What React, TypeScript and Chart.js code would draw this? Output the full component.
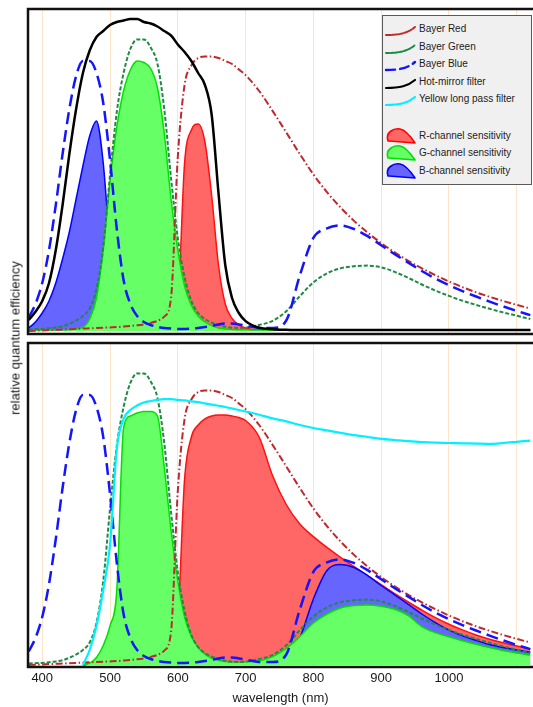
import React, { useEffect, useRef } from 'react';
import { Chart, registerables } from 'chart.js';

Chart.register(...registerables);

// wavelength samples (nm)
const W = [
  380, 390, 400, 410, 420, 430, 440, 450, 460, 470, 480, 490, 500, 510, 520, 530, 540, 550, 560, 570,
  580, 590, 600, 610, 620, 630, 640, 650, 660, 670, 680, 690, 700,
  720, 740, 760, 780, 800, 820, 840, 860, 880, 900, 920, 940, 960, 980, 1000, 1020, 1040, 1060, 1080, 1100, 1120,
];

// Bayer filter curves (same in both panels)
const bayerRed = [
  0.0, 0.001, 0.002, 0.003, 0.004, 0.005, 0.006, 0.007, 0.008, 0.009, 0.01, 0.011, 0.012, 0.013, 0.015, 0.017, 0.019, 0.022, 0.027, 0.034,
  0.048, 0.11, 0.58, 0.82, 0.885, 0.91, 0.915, 0.915, 0.91, 0.9, 0.89, 0.872, 0.853,
  0.8, 0.733, 0.662, 0.59, 0.522, 0.463, 0.412, 0.367, 0.328, 0.293, 0.262, 0.234, 0.209, 0.186, 0.165, 0.146, 0.129, 0.114, 0.1, 0.087, 0.075,
];
const bayerGreen = [
  0.005, 0.006, 0.007, 0.009, 0.012, 0.016, 0.024, 0.035, 0.05, 0.075, 0.14, 0.28, 0.52, 0.73, 0.86, 0.94, 0.972, 0.972, 0.945, 0.89,
  0.74, 0.51, 0.31, 0.18, 0.1, 0.06, 0.04, 0.028, 0.02, 0.014, 0.011, 0.01, 0.011,
  0.02, 0.034, 0.066, 0.116, 0.162, 0.192, 0.209, 0.216, 0.218, 0.212, 0.197, 0.177, 0.155, 0.135, 0.117, 0.101, 0.087, 0.074, 0.062, 0.051, 0.04,
];
const bayerBlue = [
  0.045, 0.09, 0.16, 0.27, 0.42, 0.59, 0.74, 0.85, 0.9, 0.9, 0.86, 0.76, 0.57, 0.34, 0.17, 0.09, 0.05, 0.03, 0.02, 0.014,
  0.01, 0.008, 0.007, 0.007, 0.008, 0.01, 0.013, 0.017, 0.022, 0.025, 0.025, 0.022, 0.018,
  0.01, 0.01, 0.035, 0.185, 0.31, 0.342, 0.352, 0.34, 0.316, 0.286, 0.256, 0.228, 0.2, 0.175, 0.153, 0.133, 0.115, 0.098, 0.082, 0.067, 0.053,
];

// top panel: hot-mirror filter and channel sensitivities
const hotMirror = [
  0.037, 0.064, 0.1, 0.16, 0.27, 0.42, 0.59, 0.74, 0.86, 0.935, 0.98, 1.0, 1.02, 1.03, 1.035, 1.04, 1.04, 1.03, 1.025, 1.015,
  1.0, 0.985, 0.955, 0.93, 0.9, 0.86, 0.82, 0.72, 0.46, 0.22, 0.11, 0.06, 0.033,
  0.011, 0.006, 0.004, 0.003, 0.003, 0.003, 0.003, 0.003, 0.003, 0.003, 0.003, 0.003, 0.003, 0.003, 0.003, 0.003, 0.003, 0.003, 0.003, 0.003, 0.003,
];
const rTop = [
  0.003, 0.003, 0.003, 0.003, 0.003, 0.003, 0.003, 0.003, 0.003, 0.003, 0.003, 0.003, 0.003, 0.003, 0.003, 0.003, 0.003, 0.003, 0.003, 0.003,
  0.006, 0.025, 0.09, 0.56, 0.67, 0.69, 0.63, 0.45, 0.22, 0.09, 0.042, 0.02, 0.01,
  0.004, 0.003, 0.003, 0.003, 0.003, 0.003, 0.003, 0.003, 0.003, 0.003, 0.003, 0.003, 0.003, 0.003, 0.003, 0.003, 0.003, 0.003, 0.003, 0.003, 0.003,
];
const gTop = [
  0.003, 0.003, 0.003, 0.003, 0.003, 0.004, 0.005, 0.007, 0.012, 0.04, 0.11, 0.27, 0.5, 0.68, 0.8, 0.87, 0.9, 0.895, 0.875, 0.81,
  0.66, 0.44, 0.27, 0.15, 0.085, 0.05, 0.03, 0.018, 0.01, 0.007, 0.005, 0.004, 0.004,
  0.003, 0.003, 0.003, 0.003, 0.003, 0.003, 0.003, 0.003, 0.003, 0.003, 0.003, 0.003, 0.003, 0.003, 0.003, 0.003, 0.003, 0.003, 0.003, 0.003, 0.003,
];
const bTop = [
  0.01, 0.03, 0.06, 0.1, 0.16, 0.24, 0.33, 0.44, 0.55, 0.65, 0.7, 0.56, 0.28, 0.12, 0.05, 0.02, 0.01, 0.007, 0.005, 0.004,
  0.004, 0.003, 0.003, 0.003, 0.003, 0.003, 0.003, 0.003, 0.003, 0.003, 0.003, 0.003, 0.003,
  0.003, 0.003, 0.003, 0.003, 0.003, 0.003, 0.003, 0.003, 0.003, 0.003, 0.003, 0.003, 0.003, 0.003, 0.003, 0.003, 0.003, 0.003, 0.003, 0.003, 0.003,
];

// bottom panel: yellow long pass filter and channel sensitivities
const yellowLP = [
  null, null, null, null, null, null, null, null, 0.0, 0.05, 0.13, 0.25, 0.4, 0.72, 0.82, 0.85, 0.865, 0.875, 0.88, 0.884,
  0.886, 0.886, 0.884, 0.882, 0.879, 0.876, 0.872, 0.868, 0.864, 0.86, 0.855, 0.85, 0.845,
  0.834, 0.822, 0.812, 0.8, 0.79, 0.782, 0.774, 0.766, 0.76, 0.754, 0.75, 0.746, 0.743, 0.741, 0.74, 0.739, 0.738, 0.737, 0.74, 0.744, 0.748,
];
const rBottom = [
  null, null, null, null, null, null, null, null, 0.0, 0.004, 0.005, 0.006, 0.007, 0.008, 0.01, 0.012, 0.014, 0.016, 0.02, 0.025,
  0.035, 0.06, 0.15, 0.62, 0.76, 0.8, 0.82, 0.83, 0.833, 0.833, 0.83, 0.825, 0.815,
  0.76, 0.63, 0.535, 0.47, 0.428, 0.392, 0.359, 0.328, 0.298, 0.268, 0.238, 0.21, 0.183, 0.158, 0.136, 0.117, 0.1, 0.086, 0.074, 0.063, 0.053,
];
const gBottom = [
  null, null, null, null, null, null, null, null, 0.0, 0.006, 0.025, 0.065, 0.13, 0.25, 0.79, 0.83, 0.84, 0.845, 0.845, 0.83,
  0.66, 0.45, 0.28, 0.16, 0.095, 0.058, 0.036, 0.022, 0.016, 0.012, 0.01, 0.01, 0.011,
  0.014, 0.028, 0.055, 0.095, 0.14, 0.17, 0.19, 0.198, 0.2, 0.196, 0.186, 0.165, 0.128, 0.108, 0.094, 0.081, 0.069, 0.058, 0.048, 0.04, 0.033,
];
const bBottom = [
  null, null, null, null, null, null, null, null, 0.0, 0.003, 0.003, 0.003, 0.003, 0.003, 0.003, 0.003, 0.003, 0.003, 0.003, 0.003,
  0.003, 0.003, 0.003, 0.003, 0.003, 0.003, 0.003, 0.003, 0.003, 0.003, 0.003, 0.003, 0.003,
  0.003, 0.006, 0.02, 0.09, 0.22, 0.315, 0.335, 0.325, 0.298, 0.265, 0.234, 0.202, 0.17, 0.141, 0.116, 0.097, 0.082, 0.068, 0.058, 0.05, 0.043,
];

const xGridValues = [400, 500, 600, 700, 800, 900, 1000, 1100];
const xTickLabels = ['400', '500', '600', '700', '800', '900', '1000'];

const legendLines = [
  { label: 'Bayer Red', color: '#c0282d', dash: '5 1.6 1.2 1.6', width: 2 },
  { label: 'Bayer Green', color: '#1f8a45', dash: '3 1.5', width: 2 },
  { label: 'Bayer Blue', color: '#1414ff', dash: '9 5', width: 2.4 },
  { label: 'Hot-mirror filter', color: '#000000', dash: '', width: 2.2 },
  { label: 'Yellow long pass filter', color: '#00f0ff', dash: '', width: 2.2 },
];
const legendFills = [
  { label: 'R-channel sensitivity', fill: '#ff6666', edge: '#ff0000' },
  { label: 'G-channel sensitivity', fill: '#66ff66', edge: '#00e000' },
  { label: 'B-channel sensitivity', fill: '#6666ff', edge: '#0000ff' },
];

const FONT = "'Liberation Sans', Arial, Helvetica, sans-serif";
const GRID = '#fde6c8';
const X_MIN = 379;
const X_MAX = 1124;

const pts = (ys: (number | null)[]) => W.map((x, i) => ({ x, y: ys[i] }));

const lineDs = (label: string, ys: (number | null)[], color: string, width: number, dash: number[], order: number) => ({
  label,
  data: pts(ys),
  borderColor: color,
  borderWidth: width,
  borderDash: dash,
  fill: false,
  order,
  pointRadius: 0,
  cubicInterpolationMode: 'monotone',
});
const areaDs = (label: string, ys: (number | null)[], fillColor: string, edge: string, order: number) => ({
  label,
  data: pts(ys),
  borderColor: edge,
  backgroundColor: fillColor,
  borderWidth: 1.5,
  fill: 'origin',
  order,
  pointRadius: 0,
  cubicInterpolationMode: 'monotone',
});

const framePlugin = {
  id: 'frame',
  afterDatasetsDraw(chart: any) {
    const { ctx, chartArea: a } = chart;
    ctx.save();
    ctx.strokeStyle = '#111111';
    ctx.lineWidth = 2.5;
    ctx.strokeRect(a.left, a.top, a.right - a.left + 30, a.bottom - a.top);
    ctx.restore();
  },
};

const setGrid = (s: any) => {
  s.ticks = xGridValues.map((v) => ({ value: v }));
};

export default function App() {
  const topRef = useRef<HTMLCanvasElement>(null);
  const botRef = useRef<HTMLCanvasElement>(null);

  useEffect(() => {
    const topChart = new Chart(topRef.current as HTMLCanvasElement, {
      type: 'line',
      data: {
        datasets: [
          areaDs('R-channel sensitivity', rTop, '#ff6666', '#ff1010', 100),
          areaDs('B-channel sensitivity', bTop, '#6666ff', '#0000ff', 99),
          areaDs('G-channel sensitivity', gTop, '#66ff66', '#00e000', 98),
          lineDs('Bayer Red', bayerRed, '#c0282d', 2, [7, 2.5, 1.5, 2.5], 89),
          lineDs('Bayer Green', bayerGreen, '#1f8a45', 2, [4, 2], 87),
          lineDs('Bayer Blue', bayerBlue, '#1414ff', 2.5, [12, 6], 85),
          lineDs('Hot-mirror filter', hotMirror, '#000000', 2.5, [], 83),
        ] as any,
      },
      options: {
        responsive: false,
        animation: false,
        devicePixelRatio: 1,
        layout: { padding: { left: 28, right: 0, top: 9, bottom: 6 } },
        plugins: { legend: { display: false }, tooltip: { enabled: false } },
        scales: {
          x: {
            type: 'linear',
            min: X_MIN,
            max: X_MAX,
            afterBuildTicks: setGrid,
            ticks: { display: false },
            grid: { color: GRID, lineWidth: 1, drawTicks: false },
            border: { display: false },
            afterFit: (s: any) => {
              s.height = 0;
            },
          },
          y: { display: false, min: -0.01, max: 1.0733 },
        },
      } as any,
      plugins: [framePlugin],
    });

    const botChart = new Chart(botRef.current as HTMLCanvasElement, {
      type: 'line',
      data: {
        datasets: [
          areaDs('R-channel sensitivity', rBottom, '#ff6666', '#ff1010', 100),
          areaDs('B-channel sensitivity', bBottom, '#6666ff', '#0000ff', 99),
          areaDs('G-channel sensitivity', gBottom, '#66ff66', '#00e000', 98),
          lineDs('Bayer Red', bayerRed, '#c0282d', 2, [7, 2.5, 1.5, 2.5], 89),
          lineDs('Bayer Green', bayerGreen, '#1f8a45', 2, [4, 2], 87),
          lineDs('Bayer Blue', bayerBlue, '#1414ff', 2.5, [12, 6], 85),
          lineDs('Yellow long pass filter', yellowLP, '#00f0ff', 2.2, [], 83),
        ] as any,
      },
      options: {
        responsive: false,
        animation: false,
        devicePixelRatio: 1,
        layout: { padding: { left: 28, right: 0, top: 3, bottom: 0 } },
        plugins: { legend: { display: false }, tooltip: { enabled: false } },
        scales: {
          x: {
            type: 'linear',
            min: X_MIN,
            max: X_MAX,
            afterBuildTicks: setGrid,
            ticks: {
              autoSkip: false,
              maxRotation: 0,
              padding: 4,
              color: '#1a1a1a',
              font: { family: FONT, size: 13 },
              callback: (_v: any, i: number) => xTickLabels[i] ?? '',
            },
            grid: { color: GRID, lineWidth: 1, drawTicks: false },
            border: { display: false },
            title: {
              display: true,
              text: 'wavelength (nm)',
              color: '#1a1a1a',
              font: { family: FONT, size: 13 },
              padding: { top: 0, bottom: 1 },
            },
            afterFit: (s: any) => {
              s.height = 40;
            },
          },
          y: { display: false, min: -0.00667, max: 1.0733 },
        },
      } as any,
      plugins: [framePlugin],
    });

    return () => {
      topChart.destroy();
      botChart.destroy();
    };
  }, []);

  const rowY = [13, 31, 48, 66, 83];
  const fillRowY = [120, 137, 155];

  return (
    <div
      style={{
        position: 'fixed',
        left: 0,
        top: 0,
        width: 533,
        height: 707,
        overflow: 'hidden',
        background: '#ffffff',
        fontFamily: FONT,
      }}
    >
      <canvas ref={topRef} width={533} height={340} style={{ position: 'absolute', left: 0, top: 0 }} />
      <canvas ref={botRef} width={533} height={367} style={{ position: 'absolute', left: 0, top: 340 }} />
      <div
        style={{
          position: 'absolute',
          left: 15,
          top: 338,
          transform: 'translate(-50%, -50%) rotate(-90deg)',
          whiteSpace: 'nowrap',
          fontSize: 13,
          color: '#1a1a1a',
        }}
      >
        relative quantum efficiency
      </div>
      <div
        style={{
          position: 'absolute',
          left: 382,
          top: 15,
          width: 150,
          height: 170,
          boxSizing: 'border-box',
          background: '#f0f0f0',
          border: '1px solid #5a5a5a',
        }}
      >
        {legendLines.map((l, i) => (
          <React.Fragment key={l.label}>
            <svg
              width={34}
              height={20}
              style={{ position: 'absolute', left: 1, top: rowY[i] - 10 }}
            >
              <path
                d="M2 16 C 16 16, 24 14, 31 8"
                fill="none"
                stroke={l.color}
                strokeWidth={l.width}
                strokeDasharray={l.dash}
                strokeLinecap="round"
              />
            </svg>
            <div
              style={{
                position: 'absolute',
                left: 36,
                top: rowY[i] - 7,
                fontSize: 10,
                lineHeight: '14px',
                color: '#222',
                whiteSpace: 'nowrap',
              }}
            >
              {l.label}
            </div>
          </React.Fragment>
        ))}
        {legendFills.map((f, i) => (
          <React.Fragment key={f.label}>
            <svg
              width={34}
              height={20}
              style={{ position: 'absolute', left: 1, top: fillRowY[i] - 10 }}
            >
              <path
                d="M4 15 C 1 6, 10 2, 16 3 C 22 4, 27 11, 31 17 L 5 15 Z"
                fill={f.fill}
                stroke={f.edge}
                strokeWidth={1.6}
                strokeLinejoin="round"
              />
            </svg>
            <div
              style={{
                position: 'absolute',
                left: 36,
                top: fillRowY[i] - 7,
                fontSize: 10,
                lineHeight: '14px',
                color: '#222',
                whiteSpace: 'nowrap',
              }}
            >
              {f.label}
            </div>
          </React.Fragment>
        ))}
      </div>
    </div>
  );
}
